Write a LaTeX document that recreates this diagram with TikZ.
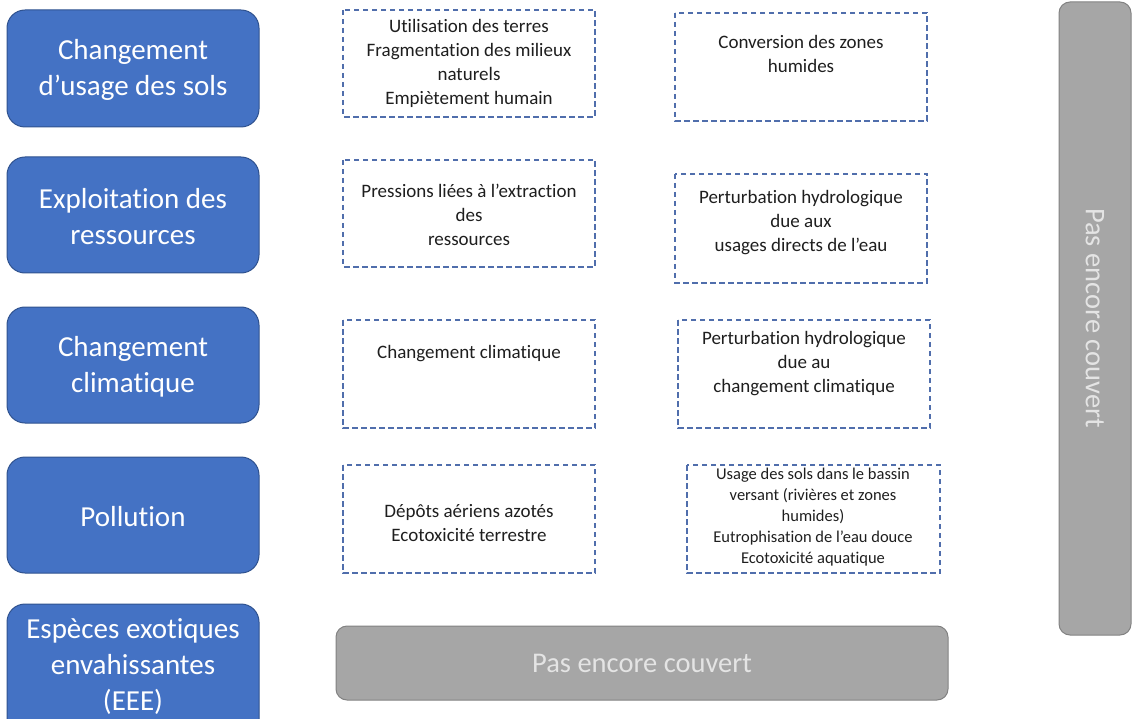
\documentclass[tikz,border=0pt]{standalone}
\usepackage{fontspec}
\setmainfont{Carlito}[Ligatures=NoCommon]
\begin{document}
\begin{tikzpicture}[x=1pt,y=-1pt,
  cat/.style={draw={rgb,255:red,47;green,82;blue,143},line width=1pt,fill={rgb,255:red,68;green,114;blue,196},rounded corners=18pt,text=white,font=\fontsize{29}{36}\selectfont,align=center,inner sep=0pt},
  dbox/.style={draw={rgb,255:red,80;green,110;blue,172},dash pattern=on 5.5pt off 3.5pt,line width=1.4pt,inner sep=0pt},
  txt/.style={font=\fontsize{19}{24}\selectfont,align=center,text={rgb,255:red,30;green,30;blue,30},inner sep=0pt},
  stxt/.style={font=\fontsize{16.5}{20.8}\selectfont,align=center,text={rgb,255:red,30;green,30;blue,30},inner sep=0pt},
  gbox/.style={draw={rgb,255:red,130;green,130;blue,130},line width=1pt,fill={rgb,255:red,166;green,166;blue,166},rounded corners=11pt,text={rgb,255:red,228;green,228;blue,228},font=\fontsize{28.5}{30}\selectfont,inner sep=0pt}]
\useasboundingbox (0,0) rectangle (1132,719);
% blue category boxes
\path[cat] (7,10) rectangle (259,127);
\node[cat,draw=none,fill=none] (c1) at (133,70) {Changement\\d’usage des sols};
\path[cat] (7,157) rectangle (259,273);
\node[cat,draw=none,fill=none] (c2) at (133,217) {Exploitation des\\ressources};
\path[cat] (7,307) rectangle (259,423);
\node[cat,draw=none,fill=none] (c3) at (133,367) {Changement\\climatique};
\path[cat] (7,457) rectangle (259,573);
\node[cat,draw=none,fill=none] (c4) at (133,517) {Pollution};
\path[cat] (7,604) rectangle (259,740);
\node[cat,draw=none,fill=none] (c5) at (133,667) {Espèces exotiques\\envahissantes\\(EEE)};
% dashed boxes left column
\draw[dbox] (343,10) rectangle (595,117);
\node[txt] (l1) at (469,63) {Utilisation des terres\\Fragmentation des milieux\\naturels\\Empiètement humain};
\draw[dbox] (343,160) rectangle (595,267);
\node[txt] (l2) at (469,215) {Pressions liées à l’extraction\\des\\ressources};
\draw[dbox] (343,320) rectangle (595,428);
\node[txt] (l3) at (469,354) {Changement climatique};
\draw[dbox] (343,465) rectangle (595,573);
\node[txt] (l4) at (469,523) {Dépôts aériens azotés\\Ecotoxicité terrestre};
% dashed boxes right column
\draw[dbox] (675,13) rectangle (927,121);
\node[txt] (r1) at (801,54) {Conversion des zones\\humides};
\draw[dbox] (675,174) rectangle (927,283);
\node[txt] (r2) at (801,223) {Perturbation hydrologique\\due aux\\usages directs de l’eau};
\draw[dbox] (678,320) rectangle (930,428);
\node[txt] (r3) at (804,364) {Perturbation hydrologique\\due au\\changement climatique};
\draw[dbox] (687,465) rectangle (940,573);
\node[stxt] (r4) at (813,517) {Usage des sols dans le bassin\\versant (rivières et zones\\humides)\\Eutrophisation de l’eau douce\\Ecotoxicité aquatique};
% gray boxes
\path[gbox] (336,626) rectangle (948,700);
\node[gbox,draw=none,fill=none] (g1) at (642,663) {Pas encore couvert};
\path[gbox] (1059,2) rectangle (1131,635);
\node[gbox,draw=none,fill=none,rotate=-90] (g2) at (1095,318) {Pas encore couvert};
\end{tikzpicture}
\end{document}
